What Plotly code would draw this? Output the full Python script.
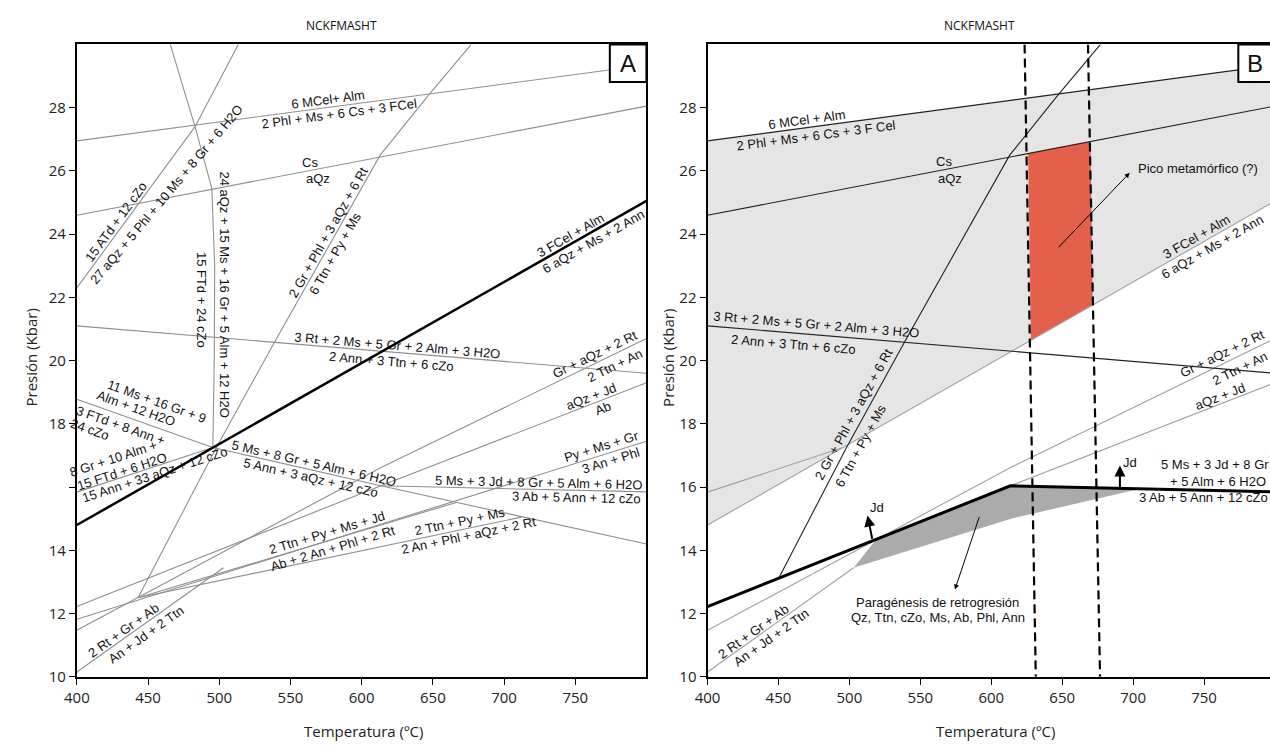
import math
import numpy as np
import plotly.graph_objects as go

W, H = 1270, 750

# ---------------- reaction curves (temperature °C, pressure kbar) ----------------
MCEL_T = [400, 800];            MCEL_P = [26.95, 29.35]      # 6 MCel + Alm / 2 Phl + Ms + 6 Cs + 3 FCel
CS_T = [400, 800];              CS_P = [24.6, 28.05]         # Cs / aQz
ATD_T = [400, 483, 513.4];      ATD_P = [22.3, 27.4, 30.0]   # 15 ATd + 12 cZo / 27 aQz + ...
AQZ24_T = [465.6, 483, 494.8, 496.8, 496.5, 495.5]
AQZ24_P = [30.0, 27.4, 25.45, 23.0, 20.0, 17.25]             # 24 aQz + ... / 15 FTd + 24 cZo
GR2_T = [443, 463, 498, 539, 557, 613, 647, 677]
GR2_P = [12.5, 14.22, 17.25, 20.6, 22.03, 26.5, 28.4, 30.0]  # 2 Gr + Phl + 3 aQz + 6 Rt / 6 Ttn + Py + Ms
FCEL_T = [400, 800];            FCEL_P = [14.8, 25.05]       # 3 FCel + Alm / 6 aQz + Ms + 2 Ann
RT3_T = [400, 800];             RT3_P = [21.1, 19.6]         # 3 Rt + 2 Ms + ... / 2 Ann + 3 Ttn + 6 cZo
MS11_T = [400, 495.5];          MS11_P = [18.78, 17.25]      # 11 Ms + 16 Gr + ... / 3 FTd + 8 Ann + 24 cZo
GR8_T = [400, 495.5];           GR8_P = [15.84, 17.25]       # 8 Gr + 10 Alm + ... / 15 Ann + 33 aQz + 12 cZo
MS5GR8_T = [495.5, 613.5, 800]; MS5GR8_P = [17.25, 16.04, 14.2]
MS5JD3_T = [613.5, 800];        MS5JD3_P = [16.04, 15.85]
AQZJD_T = [400, 613.5, 800];    AQZJD_P = [12.22, 16.04, 19.3]
GRAQZ_T = [400, 614, 800];      GRAQZ_P = [11.47, 16.63, 20.7]
PYMS_T = [400, 800];            PYMS_P = [11.82, 17.45]
TTNJD_T = [443, 667];           TTNJD_P = [12.5, 15.52]
TTNPY_T = [443, 712];           TTNPY_P = [12.5, 15.05]
ANJD_T = [400, 503];            ANJD_P = [10.15, 13.45]

# ---------------- panel B regions ----------------
RED_T = [626, 670, 671.5, 628]          # top-left, top-right (on Cs), bottom-right, bottom-left (on FCel)
RETRO_T = [503, 519, 613.5, 705, 614]
RETRO_P = [13.45, 14.35, 16.04, 15.95, 15.0]
DASH_L_T = [623.5, 631.4]
DASH_R_T = [668.2, 676.7]
DASH_P = [30, 10]

X_TICKS = [400, 450, 500, 550, 600, 650, 700, 750]
Y_TICKS = [10, 12, 14, 16, 18, 20, 22, 24, 26, 28]

LINES = {
    'MCEL': (MCEL_T, MCEL_P), 'CS': (CS_T, CS_P), 'ATD': (ATD_T, ATD_P),
    'AQZ24': (AQZ24_T, AQZ24_P), 'GR2': (GR2_T, GR2_P), 'FCEL': (FCEL_T, FCEL_P),
    'RT3': (RT3_T, RT3_P), 'MS11': (MS11_T, MS11_P), 'GR8': (GR8_T, GR8_P),
    'MS5GR8': (MS5GR8_T, MS5GR8_P), 'MS5JD3': (MS5JD3_T, MS5JD3_P),
    'AQZJD': (AQZJD_T, AQZJD_P), 'GRAQZ': (GRAQZ_T, GRAQZ_P), 'PYMS': (PYMS_T, PYMS_P),
    'TTNJD': (TTNJD_T, TTNJD_P), 'TTNPY': (TTNPY_T, TTNPY_P), 'ANJD': (ANJD_T, ANJD_P),
}

# ---------------- geometry ----------------
AX0, AX1 = 64.5, 640.0
BX0, BX1 = 701.7, 1270.0
Y_TOP, Y_BOT = 45.0, 685.0
T_MIN, T_MAX_A, T_MAX_B = 400, 800, 796.5
P_MIN, P_MAX = 10, 30
SX_A = (AX1 - AX0) / (T_MAX_A - T_MIN)
SX_B = (BX1 - BX0) / (T_MAX_B - T_MIN)
SY = (Y_BOT - Y_TOP) / (P_MAX - P_MIN)

LABEL_FONT = dict(family='Liberation Sans, Arial, sans-serif', size=13, color='#111')
AXIS_FONT = dict(family='Open Sans, sans-serif', size=15, color='#222')
GRAY_A = '#8f8f8f'
GRAY_B = '#a0a0a0'


def interp(key, t):
    T, P = LINES[key]
    return float(np.interp(t, T, P))


def line_label(key, text, t, off, sx, xr, yr, angle=None):
    T, P = LINES[key]
    p = float(np.interp(t, T, P))
    h = 0.5
    s = (np.interp(t + h, T, P) - np.interp(t - h, T, P)) / (2 * h)
    a = math.atan(s * SY / sx)
    ang = -math.degrees(a) if angle is None else angle
    return dict(x=t, y=p, xref=xr, yref=yr, text=text, showarrow=False,
                textangle=ang, xshift=-off * math.sin(a), yshift=off * math.cos(a),
                font=LABEL_FONT, xanchor='center', yanchor='middle')


def abs_label(text, t, p, xr, yr, angle=0, font=None):
    return dict(x=t, y=p, xref=xr, yref=yr, text=text, showarrow=False, textangle=angle,
                font=font or LABEL_FONT, xanchor='center', yanchor='middle')


fig = go.Figure()


def add_line(T, P, xa, ya, color, width, dash=None):
    fig.add_trace(go.Scatter(x=list(T), y=list(P), mode='lines', xaxis=xa, yaxis=ya,
                             line=dict(color=color, width=width, dash=dash),
                             hoverinfo='skip', showlegend=False))


# ================= Panel A =================
for key in ['MCEL', 'CS', 'ATD', 'AQZ24', 'GR2', 'RT3', 'MS11', 'GR8', 'MS5GR8', 'MS5JD3',
            'AQZJD', 'GRAQZ', 'PYMS', 'TTNJD', 'TTNPY', 'ANJD']:
    add_line(*LINES[key], 'x', 'y', GRAY_A, 1.1)
add_line(FCEL_T, FCEL_P, 'x', 'y', '#000', 2.5)

# ================= Panel B =================
gT = [T_MIN, T_MAX_B, T_MAX_B, T_MIN]
gP = [interp('FCEL', T_MIN), interp('FCEL', T_MAX_B), interp('MCEL', T_MAX_B), interp('MCEL', T_MIN)]
fig.add_trace(go.Scatter(x=gT, y=gP, fill='toself', fillcolor='#e5e5e5', mode='lines',
                         line=dict(width=0, color='#e5e5e5'), xaxis='x2', yaxis='y2',
                         hoverinfo='skip', showlegend=False))
rP = [interp('CS', RED_T[0]), interp('CS', RED_T[1]), interp('FCEL', RED_T[2]), interp('FCEL', RED_T[3])]
fig.add_trace(go.Scatter(x=RED_T, y=rP, fill='toself', fillcolor='#e4604b', mode='lines',
                         line=dict(width=0, color='#e4604b'), xaxis='x2', yaxis='y2',
                         hoverinfo='skip', showlegend=False))
fig.add_trace(go.Scatter(x=RETRO_T, y=RETRO_P, fill='toself', fillcolor='#ababab', mode='lines',
                         line=dict(width=0, color='#ababab'), xaxis='x2', yaxis='y2',
                         hoverinfo='skip', showlegend=False))

for key in ['FCEL', 'GR8', 'GRAQZ', 'AQZJD', 'ANJD']:
    add_line(*LINES[key], 'x2', 'y2', GRAY_B, 1.1)
for key in ['MCEL', 'CS', 'RT3']:
    add_line(*LINES[key], 'x2', 'y2', '#222', 1.1)

tt = np.linspace(443, 500, 3000)
d = np.interp(tt, GR2_T, GR2_P) - np.interp(tt, AQZJD_T, AQZJD_P)
t0 = float(tt[np.argmin(np.abs(d))])
gr2T = np.asarray(GR2_T, float); gr2P = np.asarray(GR2_P, float)
keep = gr2T > t0
add_line([t0] + list(gr2T[keep]), [float(np.interp(t0, GR2_T, GR2_P))] + list(gr2P[keep]),
         'x2', 'y2', '#222', 1.1)

thT = [AQZJD_T[0], AQZJD_T[1]] + MS5JD3_T[1:]
thP = [AQZJD_P[0], AQZJD_P[1]] + MS5JD3_P[1:]
add_line(thT, thP, 'x2', 'y2', '#000', 3)

add_line(DASH_L_T, DASH_P, 'x2', 'y2', '#000', 2.2, dash='9px,5px')
add_line(DASH_R_T, DASH_P, 'x2', 'y2', '#000', 2.2, dash='9px,5px')

# ================= annotations =================
ann = []

A_LABELS = [
    ('MCEL', '6 MCel+ Alm', 577, 8, None),
    ('MCEL', '2 Phl + Ms + 6 Cs + 3 FCel', 584, -8, None),
    ('CS', 'Cs', 565, 8, 0),
    ('CS', 'aQz', 568, -9, 0),
    ('ATD', '15 ATd + 12 cZo', 432, 8, None),
    ('GR2', '2 Gr + Phl + 3 aQz + 6 Rt', 580.9, 7, None),
    ('GR2', '6 Ttn + Py + Ms', 575.8, -9, None),
    ('FCEL', '3 FCel + Alm', 749.2, 8, None),
    ('FCEL', '6 aQz + Ms + 2 Ann', 759.6, -9, None),
    ('RT3', '3 Rt + 2 Ms + 5 Gr + 2 Alm + 3 H2O', 624.7, 7, None),
    ('RT3', '2 Ann + 3 Ttn + 6 cZo', 621.3, -9, None),
    ('MS11', '11 Ms + 16 Gr + 9', 450.4, 25, None),
    ('MS11', 'Alm + 12 H2O', 439.3, 11, None),
    ('MS11', '3 FTd + 8 Ann +', 433, -10, None),
    ('MS11', '24 cZo', 415, -24, None),
    ('GR8', '8 Gr + 10 Alm +', 430.3, 20, None),
    ('GR8', '15 FTd + 6 H2O', 433, 6, None),
    ('GR8', '15 Ann + 33 aQz + 12 cZo', 453.2, -8, None),
    ('MS5GR8', '5 Ms + 8 Gr + 5 Alm + 6 H2O', 565.8, 7, None),
    ('MS5GR8', '5 Ann + 3 aQz + 12 cZo', 565.1, -8, None),
    ('MS5JD3', '5 Ms + 3 Jd + 8 Gr + 5 Alm + 6 H2O', 724, 7, None),
    ('MS5JD3', '3 Ab + 5 Ann + 12 cZo', 751, -7, None),
    ('GRAQZ', 'Gr + aQz + 2 Rt', 766, 8, None),
    ('GRAQZ', '2 Ttn + An', 774.6, -10, None),
    ('AQZJD', 'aQz + Jd', 763, 7, None),
    ('AQZJD', 'Ab', 767.3, -8, None),
    ('PYMS', 'Py + Ms + Gr', 770, 8, None),
    ('PYMS', '3 An + Phl', 773.5, -8, None),
    ('TTNJD', '2 Ttn + Py + Ms + Jd', 577.6, 8, None),
    ('TTNJD', 'Ab + 2 An + Phl + 2 Rt', 577.6, -8, None),
    ('TTNPY', '2 Ttn + Py + Ms', 670, 8, None),
    ('TTNPY', '2 An + Phl + aQz + 2 Rt', 674, -7, None),
    ('ANJD', '2 Rt + Gr + Ab', 435.5, 7, None),
    ('ANJD', 'An + Jd + 2 Ttn', 444.7, -10, None),
]
for key, text, t, off, angle in A_LABELS:
    ann.append(line_label(key, text, t, off, SX_A, 'x', 'y', angle))
ann.append(abs_label('27 aQz + 5 Phl + 10 Ms + 8 Gr + 6 H2O', 462.9, 25.25, 'x', 'y', -50))
ann.append(abs_label('24 aQz + 15 Ms + 16 Gr + 5 Alm + 12 H2O', 503.9, 22.1, 'x', 'y', 90))
ann.append(abs_label('15 FTd + 24 cZo', 487.2, 21.92, 'x', 'y', 90))

B_LABELS = [
    ('MCEL', '6 MCel + Alm', 471, 8, None),
    ('MCEL', '2 Phl + Ms + 6 Cs + 3 F Cel', 475.5, -9, None),
    ('CS', 'Cs', 567.6, 8, 0),
    ('CS', 'aQz', 569.7, -10, 0),
    ('RT3', '3 Rt + 2 Ms + 5 Gr + 2 Alm + 3 H2O', 476, 10, None),
    ('RT3', '2 Ann + 3 Ttn + 6 cZo', 461.6, -11, None),
    ('GR2', '2 Gr + Phl + 3 aQz + 6 Rt', 509, 10, None),
    ('GR2', '6 Ttn + Py + Ms', 501, -11, None),
    ('FCEL', '3 FCel + Alm', 747.8, 8, None),
    ('FCEL', '6 aQz + Ms + 2 Ann', 753, -9, None),
    ('GRAQZ', 'Gr + aQz + 2 Rt', 766, 10, None),
    ('GRAQZ', '2 Ttn + An', 771.5, -11, None),
    ('AQZJD', 'aQz + Jd', 763, 7, None),
    ('ANJD', '2 Rt + Gr + Ab', 434.9, 6, None),
    ('ANJD', 'An + Jd + 2 Ttn', 441.2, -9, None),
]
for key, text, t, off, angle in B_LABELS:
    ann.append(line_label(key, text, t, off, SX_B, 'x2', 'y2', angle))

B_ABS = [
    ('5 Ms + 3 Jd + 8 Gr', 757.5, 16.72),
    ('+ 5 Alm + 6 H2O', 759.6, 16.19),
    ('3 Ab + 5 Ann + 12 cZo', 749.9, 15.66),
    ('Pico metamórfico (?)', 745.6, 26.09),
    ('Paragénesis de retrogresión', 562.4, 12.34),
    ('Qz, Ttn, cZo, Ms, Ab, Phl, Ann', 562.4, 11.875),
    ('Jd', 519.3, 15.37),
    ('Jd', 697.6, 16.77),
]
for text, t, p in B_ABS:
    ann.append(abs_label(text, t, p, 'x2', 'y2'))

ARROWS = [
    ((646.5, 23.54), (697.6, 25.94), 1.0, 1.0),
    ((591.9, 15.10), (574.4, 12.76), 1.0, 1.0),
    ((516.3, 14.32), (512.8, 15.1), 2.0, 1.1),
    ((690.7, 15.93), (690.7, 16.68), 2.0, 1.1),
]
for (tx, tp), (hx, hp), wdt, sz in ARROWS:
    ann.append(dict(x=hx, y=hp, ax=tx, ay=tp, xref='x2', yref='y2', axref='x2', ayref='y2',
                    text='', showarrow=True, arrowhead=2, arrowsize=sz, arrowwidth=wdt,
                    arrowcolor='#000', standoff=0, startstandoff=0))


def px_x(p):
    return p / W


def px_y(p):
    return (H - p) / H


for xc in (354, 993):
    ann.append(dict(x=px_x(xc), y=px_y(740), xref='paper', yref='paper', text='Temperatura (ºC)',
                    showarrow=False, font=AXIS_FONT, xanchor='center', yanchor='middle'))
for xc in (18, 661):
    ann.append(dict(x=px_x(xc), y=px_y(362), xref='paper', yref='paper', text='Presión (Kbar)',
                    showarrow=False, font=AXIS_FONT, textangle=-90, xanchor='center', yanchor='middle'))
for xc in (332, 977):
    ann.append(dict(x=px_x(xc), y=px_y(26), xref='paper', yref='paper', text='NCKFMASHT',
                    showarrow=False, font=dict(family='Open Sans, sans-serif', size=12, color='#111'),
                    xanchor='center', yanchor='middle'))
for xc, letter in ((621.5, 'A'), (1255, 'B')):
    ann.append(dict(x=px_x(xc), y=px_y(64), xref='paper', yref='paper', text=letter,
                    showarrow=False, font=dict(family='Liberation Sans, Arial', size=24, color='#111'),
                    xanchor='center', yanchor='middle'))

shapes = [
    dict(type='rect', xref='paper', yref='paper', x0=px_x(603), x1=px_x(640), y0=px_y(83), y1=px_y(45),
         line=dict(color='#000', width=2), fillcolor='white', layer='above'),
    dict(type='rect', xref='paper', yref='paper', x0=px_x(1238), x1=px_x(1285), y0=px_y(83), y1=px_y(45),
         line=dict(color='#000', width=2), fillcolor='white', layer='above'),
]

axis_common = dict(showgrid=False, zeroline=False, showline=True, linecolor='#000', linewidth=2,
                   ticks='outside', ticklen=6, tickwidth=1, tickcolor='#000', tickfont=AXIS_FONT,
                   fixedrange=True)

ydom = [px_y(Y_BOT), px_y(Y_TOP)]
fig.update_layout(
    width=W, height=H, autosize=False,
    margin=dict(l=0, r=0, t=0, b=0),
    paper_bgcolor='white', plot_bgcolor='white',
    showlegend=False, hovermode=False,
    xaxis=dict(domain=[px_x(AX0), px_x(AX1)], range=[T_MIN, T_MAX_A], anchor='y', mirror=True,
               tickvals=X_TICKS, **axis_common),
    yaxis=dict(domain=ydom, range=[P_MIN, P_MAX], anchor='x', mirror=True,
               tickvals=Y_TICKS, ticktext=[('' if v == 16 else str(v)) for v in Y_TICKS], **axis_common),
    xaxis2=dict(domain=[px_x(BX0), 1.0], range=[T_MIN, T_MAX_B], anchor='y2', mirror=True,
                tickvals=X_TICKS, **axis_common),
    yaxis2=dict(domain=ydom, range=[P_MIN, P_MAX], anchor='x2', mirror=False,
                tickvals=Y_TICKS, **axis_common),
    annotations=ann,
    shapes=shapes,
)

fig.write_html('out.html', config={'displayModeBar': False})

with open('out.html', 'r', encoding='utf-8') as fh:
    html = fh.read()
html = html.replace('<head>', '<head><style>html,body{margin:0;padding:0;overflow:hidden;}</style>', 1)
with open('out.html', 'w', encoding='utf-8') as fh:
    fh.write(html)
